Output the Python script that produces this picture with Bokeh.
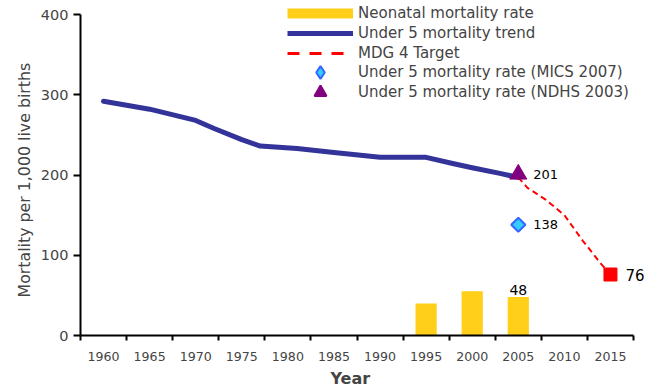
import numpy as np
from bokeh.plotting import figure
from bokeh.models import (Range1d, FixedTicker, Legend, LegendItem, ColumnDataSource, LabelSet, Title)
from bokeh.core.properties import value
from bokeh.embed import file_html
from bokeh.resources import INLINE

# ---- data ----
category_years = [1960, 1965, 1970, 1975, 1980, 1985, 1990, 1995, 2000, 2005, 2010, 2015]
tick_labels = ["1960", "1965", "1970", "1975", "1980", "1985", "1990", "1995", "2000", "2005", "2010", "2015"]
y_ticks = [0, 100, 200, 300, 400]

trend_years = [1960, 1965, 1970, 1972, 1975, 1977, 1981, 1985, 1990, 1995, 1998, 2000, 2003, 2005]
trend_values = [292, 282, 268, 258, 244, 236, 233, 228, 222, 222, 214, 209, 202, 197]

target_years = [2005, 2006, 2008, 2010, 2012, 2014, 2015]
target_values = [197, 184, 169, 150, 118, 89, 76]

neonatal_years = [1995, 2000, 2005]
neonatal_values = [40, 55, 48]

mics_years = [2005]
mics_values = [138]
ndhs_years = [2005]
ndhs_values = [201]
target_point_years = [2015]
target_point_values = [76]

FONT = "DejaVu Sans"
NAVY = "#333399"
YELLOW = "#FFCF1A"
RED = "#FF0000"
PURPLE = "#800080"
NAN = float("nan")

# frame spans page x 80..651 and y 0..335; the axes themselves stop at the data bounds
X0, X1 = 1957.5, 2017.5
Y0, Y1 = 0, 400
x_end = X0 + (651 - 80) * (X1 - X0) / 553
y_end = Y0 + 335 * (Y1 - Y0) / 321

p = figure(width=651, height=391, output_backend="svg", toolbar_location=None,
           x_range=Range1d(X0, x_end), y_range=Range1d(Y0, y_end),
           min_border_left=80, min_border_right=0, min_border_top=0, min_border_bottom=56)
p.outline_line_color = None
p.grid.visible = False
p.background_fill_color = "white"

# bars
bars = p.vbar(x=neonatal_years, top=neonatal_values, width=2.3, fill_color=YELLOW, line_color=None)
# trend line
trend = p.line(trend_years, trend_values, line_color=NAVY, line_width=5, line_join="round", line_cap="round")
# target
target = p.line(target_years, target_values, line_color=RED, line_width=2, line_dash="6 4")
tpt = p.scatter(target_point_years, target_point_values, marker="square", size=13, fill_color=RED, line_color=RED)
mics = p.scatter(mics_years, mics_values, marker="square", angle=np.pi / 4, size=10,
                 fill_color="#33CCFF", line_color="#3366FF", line_width=2)
ndhs = p.scatter(ndhs_years, ndhs_values, marker="triangle", size=17, fill_color=PURPLE, line_color=PURPLE)

# data labels
lab_src = ColumnDataSource(dict(x=ndhs_years + mics_years + target_point_years,
                                y=ndhs_values + mics_values + target_point_values,
                                t=[str(v) for v in ndhs_values + mics_values + target_point_values],
                                s=["13px", "13px", "15px"]))
p.add_layout(LabelSet(x="x", y="y", text="t", source=lab_src, x_offset=15, text_baseline="middle",
                      text_font=value(FONT), text_font_size="s", text_color="black"))
bar_src = ColumnDataSource(dict(x=[neonatal_years[-1]], y=[neonatal_values[-1]], t=[str(neonatal_values[-1])]))
p.add_layout(LabelSet(x="x", y="y", text="t", source=bar_src, y_offset=2, text_align="center",
                      text_baseline="bottom", text_font=value(FONT), text_font_size="14px", text_color="black"))

# axes
xa = p.xaxis[0]
xa.bounds = (X0, X1)
xa.ticker = FixedTicker(ticks=category_years, minor_ticks=[y - 2.5 for y in category_years] + [X1])
xa.major_label_overrides = {y: s for y, s in zip(category_years, tick_labels)}
xa.major_tick_out = 0
xa.major_tick_in = 0
xa.minor_tick_out = 5
xa.minor_tick_in = 0
xa.minor_tick_line_width = 2
xa.axis_line_width = 2
xa.major_label_text_font = FONT
xa.major_label_text_font_size = "12.6px"
xa.major_label_standoff = 11

ya = p.yaxis[0]
ya.bounds = (Y0, Y1)
ya.ticker = FixedTicker(ticks=y_ticks, minor_ticks=[])
ya.major_tick_out = 7
ya.major_tick_in = 0
ya.major_tick_line_width = 2
ya.axis_line_width = 2
ya.major_label_text_font = FONT
ya.major_label_text_font_size = "14.5px"
ya.major_label_standoff = 5

# axis titles as side-panel titles so they can be centred on the axis bounds
p.add_layout(Title(text="Year", align="left", offset=250, standoff=6, text_font=FONT,
                   text_font_size="16px", text_font_style="bold"), "below")
p.add_layout(Title(text="Mortality per 1,000 live births", align="left", offset=38, standoff=8,
                   text_font=FONT, text_font_size="15.8px", text_font_style="normal"), "left")

# legend (renderers with no visible geometry, to control the legend glyph appearance)
lg_bar = p.line([NAN], [NAN], line_color=YELLOW, line_width=10)
lg_trend = p.line([NAN], [NAN], line_color=NAVY, line_width=5)
lg_target = p.line([NAN], [NAN], line_color=RED, line_width=3, line_dash="12 10")
lg_mics = p.scatter([NAN], [NAN], marker="diamond", fill_color="#33CCFF",
                    line_color="#3366FF", line_width=2)
lg_ndhs = p.scatter([NAN], [NAN], marker="triangle", fill_color=PURPLE, line_color=PURPLE, line_width=2)

common = dict(padding=0, margin=0, spacing=0, glyph_width=66, label_standoff=5, border_line_alpha=0,
              background_fill_alpha=0, label_text_font=FONT, label_text_font_size="15px")
legend1 = Legend(items=[
    LegendItem(label="Neonatal mortality rate", renderers=[lg_bar]),
    LegendItem(label="Under 5 mortality trend", renderers=[lg_trend]),
    LegendItem(label="MDG 4 Target", renderers=[lg_target]),
], location=(207, 272), label_height=20, glyph_height=20, **common)
legend2 = Legend(items=[LegendItem(label="Under 5 mortality rate (MICS 2007)", renderers=[lg_mics])],
                 location=(207, 247), label_height=32, glyph_height=32, **common)
legend3 = Legend(items=[LegendItem(label="Under 5 mortality rate (NDHS 2003)", renderers=[lg_ndhs])],
                 location=(207, 228), label_height=30, glyph_height=30, **common)
for lg in (legend1, legend2, legend3):
    p.add_layout(lg, "center")

open("out.html", "w").write(file_html(p, INLINE))
